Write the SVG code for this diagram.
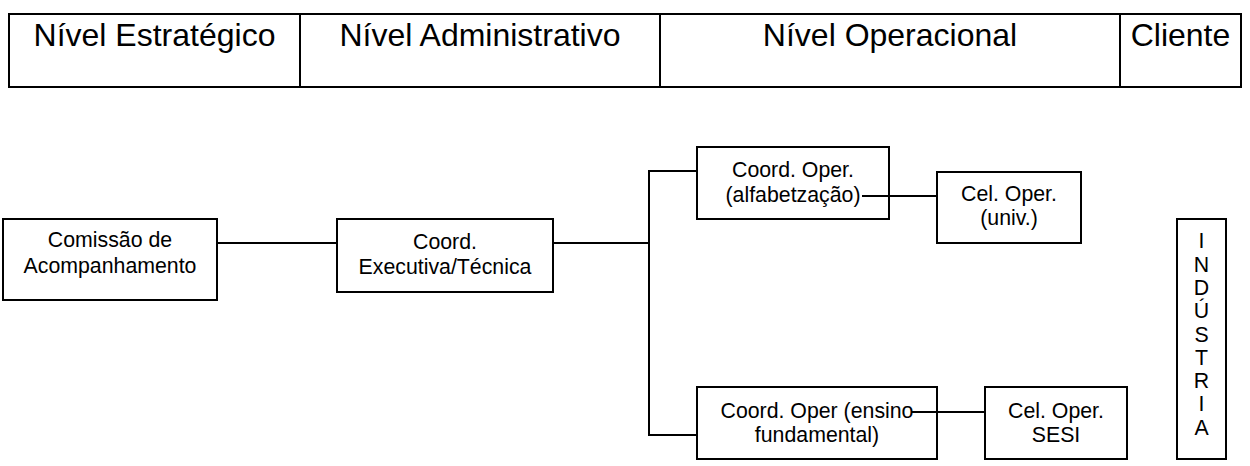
<svg xmlns="http://www.w3.org/2000/svg" width="1250" height="466" viewBox="0 0 1250 466">
<style>
.box{fill:#fff;stroke:#000;stroke-width:2}
.ln{stroke:#000;stroke-width:2;fill:none}
.t{font-family:"Liberation Sans",Arial,sans-serif;font-size:21.3px;fill:#000;text-anchor:middle}
.h{font-family:"Liberation Sans",Arial,sans-serif;font-size:32px;fill:#000;text-anchor:middle}
</style>
<rect width="1250" height="466" fill="#fff"/>
<g id="header">
<rect x="9" y="14" width="1232" height="73" class="box"/>
<line x1="300" y1="14" x2="300" y2="87" class="ln"/>
<line x1="660" y1="14" x2="660" y2="87" class="ln"/>
<line x1="1120" y1="14" x2="1120" y2="87" class="ln"/>
<text x="154.5" y="46" class="h">Nível Estratégico</text>
<text x="480" y="46" class="h">Nível Administrativo</text>
<text x="890" y="46" class="h">Nível Operacional</text>
<text x="1180.5" y="46" class="h">Cliente</text>
</g>
<g id="comissao">
<rect x="3" y="219" width="214" height="81" class="box"/>
<text x="110" y="247" class="t">Comissão de</text>
<text x="110" y="273" class="t">Acompanhamento</text>
</g>
<g id="coord-exec">
<rect x="337" y="219" width="216" height="73" class="box"/>
<text x="445" y="249" class="t">Coord.</text>
<text x="445" y="274" class="t">Executiva/Técnica</text>
</g>
<g id="coord-alfab">
<rect x="697" y="147" width="192" height="72" class="box"/>
<text x="793" y="177" class="t">Coord. Oper.</text>
<text x="793" y="202" class="t">(alfabetzação)</text>
</g>
<g id="cel-univ">
<rect x="937" y="172" width="144" height="71" class="box"/>
<text x="1009" y="201" class="t">Cel. Oper.</text>
<text x="1009" y="225" class="t">(univ.)</text>
</g>
<g id="coord-ensino">
<rect x="697" y="387" width="240" height="72" class="box"/>
<text x="817" y="418" class="t">Coord. Oper (ensino</text>
<text x="817" y="442" class="t">fundamental)</text>
</g>
<g id="cel-sesi">
<rect x="985" y="387" width="142" height="72" class="box"/>
<text x="1056" y="418" class="t">Cel. Oper.</text>
<text x="1056" y="442" class="t">SESI</text>
</g>
<g id="industria">
<rect x="1177" y="219" width="49" height="240" class="box"/>
<text x="1201.5" y="248.3" class="t">I</text>
<text x="1201.5" y="271.6" class="t">N</text>
<text x="1201.5" y="294.9" class="t">D</text>
<text x="1201.5" y="318.2" class="t">Ú</text>
<text x="1201.5" y="341.5" class="t">S</text>
<text x="1201.5" y="364.8" class="t">T</text>
<text x="1201.5" y="388.1" class="t">R</text>
<text x="1201.5" y="411.4" class="t">I</text>
<text x="1201.5" y="434.7" class="t">A</text>
</g>
<g id="connectors">
<line x1="217" y1="243" x2="337" y2="243" class="ln"/>
<line x1="553" y1="243" x2="649" y2="243" class="ln"/>
<polyline points="697,171 649,171 649,435 697,435" class="ln"/>
<line x1="862" y1="196" x2="937" y2="196" class="ln"/>
<line x1="911" y1="412" x2="985" y2="412" class="ln"/>
</g>
</svg>
